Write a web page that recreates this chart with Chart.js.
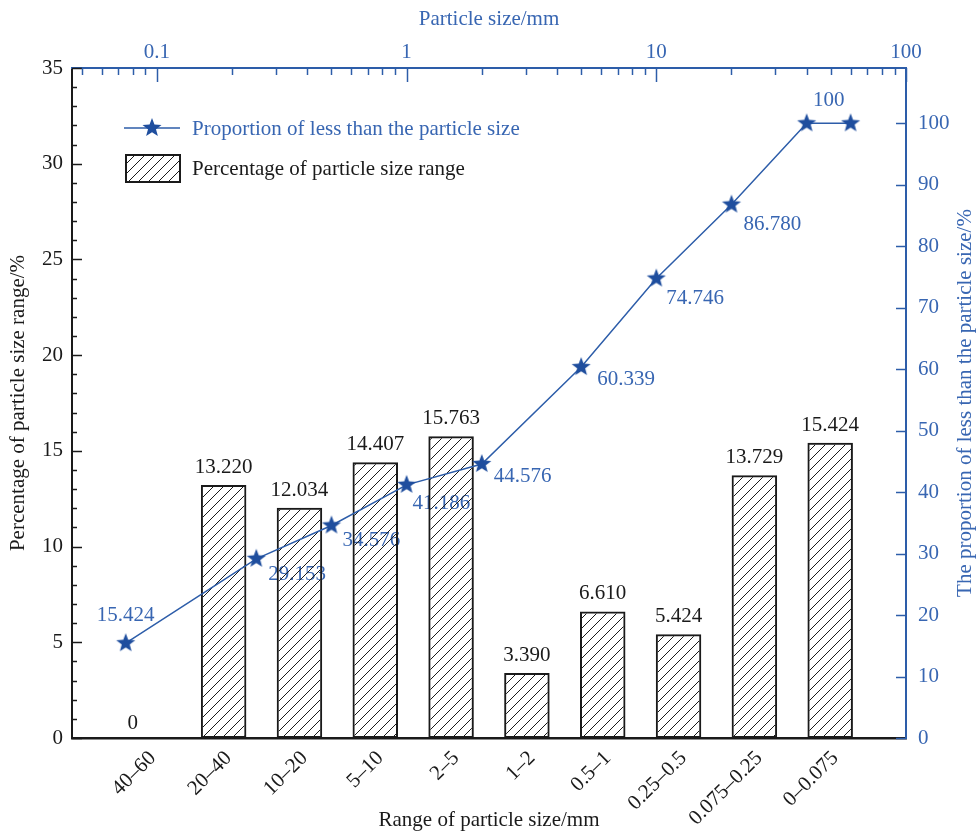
<!DOCTYPE html>
<html>
<head>
<meta charset="utf-8">
<script src="https://cdn.jsdelivr.net/npm/chart.js@4.4.1/dist/chart.umd.min.js"></script>
<style>
  html, body { margin: 0; padding: 0; background: #fff; }
  #wrap { width: 977px; height: 833px; }
</style>
</head>
<body>
<div id="wrap"><canvas id="chart" width="977" height="833"></canvas></div>
<script>
// faixas granulométricas (eixo inferior) e percentual de cada faixa
const ranges = ['40–60', '20–40', '10–20', '5–10', '2–5', '1–2', '0.5–1', '0.25–0.5', '0.075–0.25', '0–0.075'];
const rangePct = [0, 13.220, 12.034, 14.407, 15.763, 3.390, 6.610, 5.424, 13.729, 15.424];

// curva acumulada: tamanho (eixo superior, log) x passante (eixo direito)
const sizes = [0.075, 0.25, 0.5, 1, 2, 5, 10, 20, 40, 60];
const passing = [15.424, 29.153, 34.576, 41.186, 44.576, 60.339, 74.746, 86.780, 100, 100];

// rótulos dos eixos
const leftTicks = [0, 5, 10, 15, 20, 25, 30, 35];
const rightTicks = [0, 10, 20, 30, 40, 50, 60, 70, 80, 90, 100];
const topTicks = [0.1, 1, 10, 100];

const BLUE = '#2d5da9';
const BLUE_TXT = '#3866b2';
const STAR = '#1f4e9e';
const INK = '#1a1a1a';
const FONT = 'Liberation Serif, Times New Roman, serif';

Chart.defaults.font.family = FONT;
Chart.defaults.font.size = 21;
Chart.defaults.color = INK;

// estrela cheia para os pontos
function makeStar(r) {
    const c = document.createElement('canvas');
    c.width = c.height = r * 2 + 2;
    const g = c.getContext('2d');
    g.translate(r + 1, r + 1);
    g.beginPath();
    for (let i = 0; i < 10; i++) {
        const rad = i % 2 === 0 ? r : r * 0.42;
        const ang = -Math.PI / 2 + i * Math.PI / 5;
        g.lineTo(rad * Math.cos(ang), rad * Math.sin(ang));
    }
    g.closePath();
    g.fillStyle = STAR;
    g.fill();
    return c;
}
const starImg = makeStar(10);

// hachura diagonal das barras (fundo transparente)
const canvas = document.getElementById('chart');
const ctx = canvas.getContext('2d');
function makeHatch() {
    const s = 10;
    const t = document.createElement('canvas');
    t.width = t.height = s;
    const g = t.getContext('2d');
    g.strokeStyle = INK;
    g.lineWidth = 1;
    g.beginPath();
    g.moveTo(0, s); g.lineTo(s, 0);
    g.moveTo(-1, 1); g.lineTo(1, -1);
    g.moveTo(s - 1, s + 1); g.lineTo(s + 1, s - 1);
    g.stroke();
    return ctx.createPattern(t, 'repeat');
}
const hatch = makeHatch();

function fmt(v) {
    return (v === 0 || v === 100) ? String(v) : v.toFixed(3);
}

// posição dos rótulos da curva em relação a cada estrela [dx, dy, align]
const lineLabelPos = [
    [0, -28, 'center'], [12, 16, 'left'], [11, 15, 'left'], [6, 19, 'left'],
    [12, 12, 'left'], [16, 12, 'left'], [10, 20, 'left'], [12, 20, 'left'],
    [22, -23, 'center'], null
];

const extras = {
    id: 'extras',
    // rótulos da curva ficam por baixo da hachura
    beforeDatasetsDraw(chart) {
        const { ctx } = chart;
        const pts = chart.getDatasetMeta(0);
        ctx.save();
        ctx.font = '21px ' + FONT;
        ctx.fillStyle = BLUE_TXT;
        ctx.textBaseline = 'middle';
        pts.data.forEach((el, i) => {
            const p = lineLabelPos[i];
            if (!p) return;
            ctx.textAlign = p[2];
            ctx.fillText(fmt(passing[i]), el.x + p[0], el.y + p[1]);
        });
        ctx.restore();
    },
    afterDraw(chart) {
        const { ctx, chartArea: a, scales } = chart;
        const seg = (x1, y1, x2, y2) => { ctx.beginPath(); ctx.moveTo(x1, y1); ctx.lineTo(x2, y2); ctx.stroke(); };
        ctx.save();

        // marcas do eixo esquerdo (para dentro)
        ctx.strokeStyle = INK; ctx.lineWidth = 1.5;
        for (let v = 0; v <= 35; v++) {
            const py = Math.round(scales.y.getPixelForValue(v)) + 0.5;
            seg(a.left, py, a.left + (v % 5 === 0 ? 10 : 5), py);
        }

        // marcas do eixo direito
        ctx.strokeStyle = BLUE; ctx.lineWidth = 1.5;
        rightTicks.forEach(v => {
            const py = Math.round(scales.yRight.getPixelForValue(v)) + 0.5;
            seg(a.right - 10, py, a.right, py);
        });

        // marcas do eixo superior (log)
        const xt = scales.xTop;
        for (let e = -2; e <= 2; e++) {
            for (let m = 1; m <= 9; m++) {
                const v = m * Math.pow(10, e);
                if (v < xt.min * 0.999 || v > xt.max * 1.001) continue;
                const px = Math.round(xt.getPixelForValue(v)) + 0.5;
                seg(px, a.top, px, a.top + (m === 1 ? 14 : 7));
            }
        }

        // rótulos das barras
        const bars = chart.getDatasetMeta(1);
        ctx.font = '21px ' + FONT;
        ctx.fillStyle = INK;
        ctx.textAlign = 'center';
        ctx.textBaseline = 'alphabetic';
        bars.data.forEach((el, i) => {
            const zero = rangePct[i] === 0;
            ctx.fillText(fmt(rangePct[i]), el.x + (zero ? -15 : 0), el.y - (zero ? 9 : 12));
        });

        // legenda
        ctx.textBaseline = 'middle';
        const lx = a.left + 52, ly1 = a.top + 60, ly2 = a.top + 100;
        ctx.strokeStyle = BLUE; ctx.lineWidth = 1.5;
        seg(lx, ly1, lx + 56, ly1);
        ctx.drawImage(starImg, lx + 28 - starImg.width / 2, ly1 - starImg.height / 2);
        ctx.textAlign = 'left';
        ctx.fillStyle = BLUE_TXT;
        ctx.fillText(chart.data.datasets[0].label, lx + 68, ly1 + 1);
        ctx.fillStyle = hatch;
        ctx.fillRect(lx + 2, ly2 - 13, 54, 27);
        ctx.strokeStyle = INK; ctx.lineWidth = 2;
        ctx.strokeRect(lx + 2, ly2 - 13, 54, 27);
        ctx.fillStyle = INK;
        ctx.fillText(chart.data.datasets[1].label, lx + 68, ly2 + 1);

        // título do eixo direito (de baixo para cima)
        ctx.translate(chart.width - 12, (a.top + a.bottom) / 2);
        ctx.rotate(-Math.PI / 2);
        ctx.textAlign = 'center';
        ctx.fillStyle = BLUE_TXT;
        ctx.fillText('The proportion of less than the particle size/%', 0, 0);
        ctx.restore();
    }
};

new Chart(ctx, {
    type: 'bar',
    data: {
        datasets: [{
            type: 'line',
            label: 'Proportion of less than the particle size',
            data: sizes.map((s, i) => ({ x: s, y: passing[i] })),
            xAxisID: 'xTop',
            yAxisID: 'yRight',
            borderColor: BLUE,
            borderWidth: 1.5,
            pointStyle: starImg,
            pointRadius: 10,
            tension: 0,
            order: 0
        }, {
            type: 'bar',
            label: 'Percentage of particle size range',
            data: rangePct.map((v, i) => ({ x: i + 1, y: v })),
            xAxisID: 'x',
            yAxisID: 'y',
            backgroundColor: hatch,
            borderColor: INK,
            borderWidth: 2,
            borderSkipped: false,
            grouped: false,
            barPercentage: 0.6,
            categoryPercentage: 1,
            order: 1
        }]
    },
    options: {
        responsive: false,
        devicePixelRatio: 1,
        animation: false,
        layout: { padding: 0 },
        plugins: { legend: { display: false }, tooltip: { enabled: false } },
        scales: {
            x: {
                type: 'linear',
                position: 'bottom',
                min: 0,
                max: 11,
                offset: false,
                afterFit: s => { s.height = 95; },
                afterBuildTicks: s => { s.ticks = ranges.map((r, i) => ({ value: i + 1 })); },
                ticks: {
                    autoSkip: false,
                    minRotation: 45,
                    maxRotation: 45,
                    padding: 8,
                    labelOffset: 5,
                    color: INK,
                    callback: v => ranges[v - 1] || ''
                },
                grid: { display: false, drawTicks: false, offset: false },
                border: { display: true, color: INK, width: 2.5 },
                title: { display: true, text: 'Range of particle size/mm', color: INK, padding: { top: 0, bottom: 0 } }
            },
            y: {
                type: 'linear',
                position: 'left',
                min: 0,
                max: 35,
                afterFit: s => { s.width = 72; },
                afterBuildTicks: s => { s.ticks = leftTicks.map(v => ({ value: v })); },
                ticks: { padding: 9, color: INK },
                grid: { display: false, drawTicks: false },
                border: { display: true, color: INK, width: 2 },
                title: { display: true, text: 'Percentage of particle size range/%', color: INK, padding: { top: 6, bottom: 0 } }
            },
            xTop: {
                type: 'logarithmic',
                position: 'top',
                min: 0.0457,
                max: 100,
                afterFit: s => { s.height = 68; },
                afterBuildTicks: s => { s.ticks = topTicks.map(v => ({ value: v })); },
                ticks: { padding: 3, color: BLUE_TXT, autoSkip: false, maxRotation: 0, callback: v => String(v) },
                grid: { display: false, drawTicks: false },
                border: { display: true, color: BLUE, width: 2 },
                title: { display: true, text: 'Particle size/mm', color: BLUE_TXT, padding: { top: 7, bottom: 0 } }
            },
            yRight: {
                type: 'linear',
                position: 'right',
                min: 0,
                max: 109,
                afterFit: s => { s.width = 71; },
                afterBuildTicks: s => { s.ticks = rightTicks.map(v => ({ value: v })); },
                ticks: { padding: 12, color: BLUE_TXT },
                grid: { display: false, drawTicks: false },
                border: { display: true, color: BLUE, width: 2 },
                title: { display: false }
            }
        }
    },
    plugins: [extras]
});
</script>
</body>
</html>
